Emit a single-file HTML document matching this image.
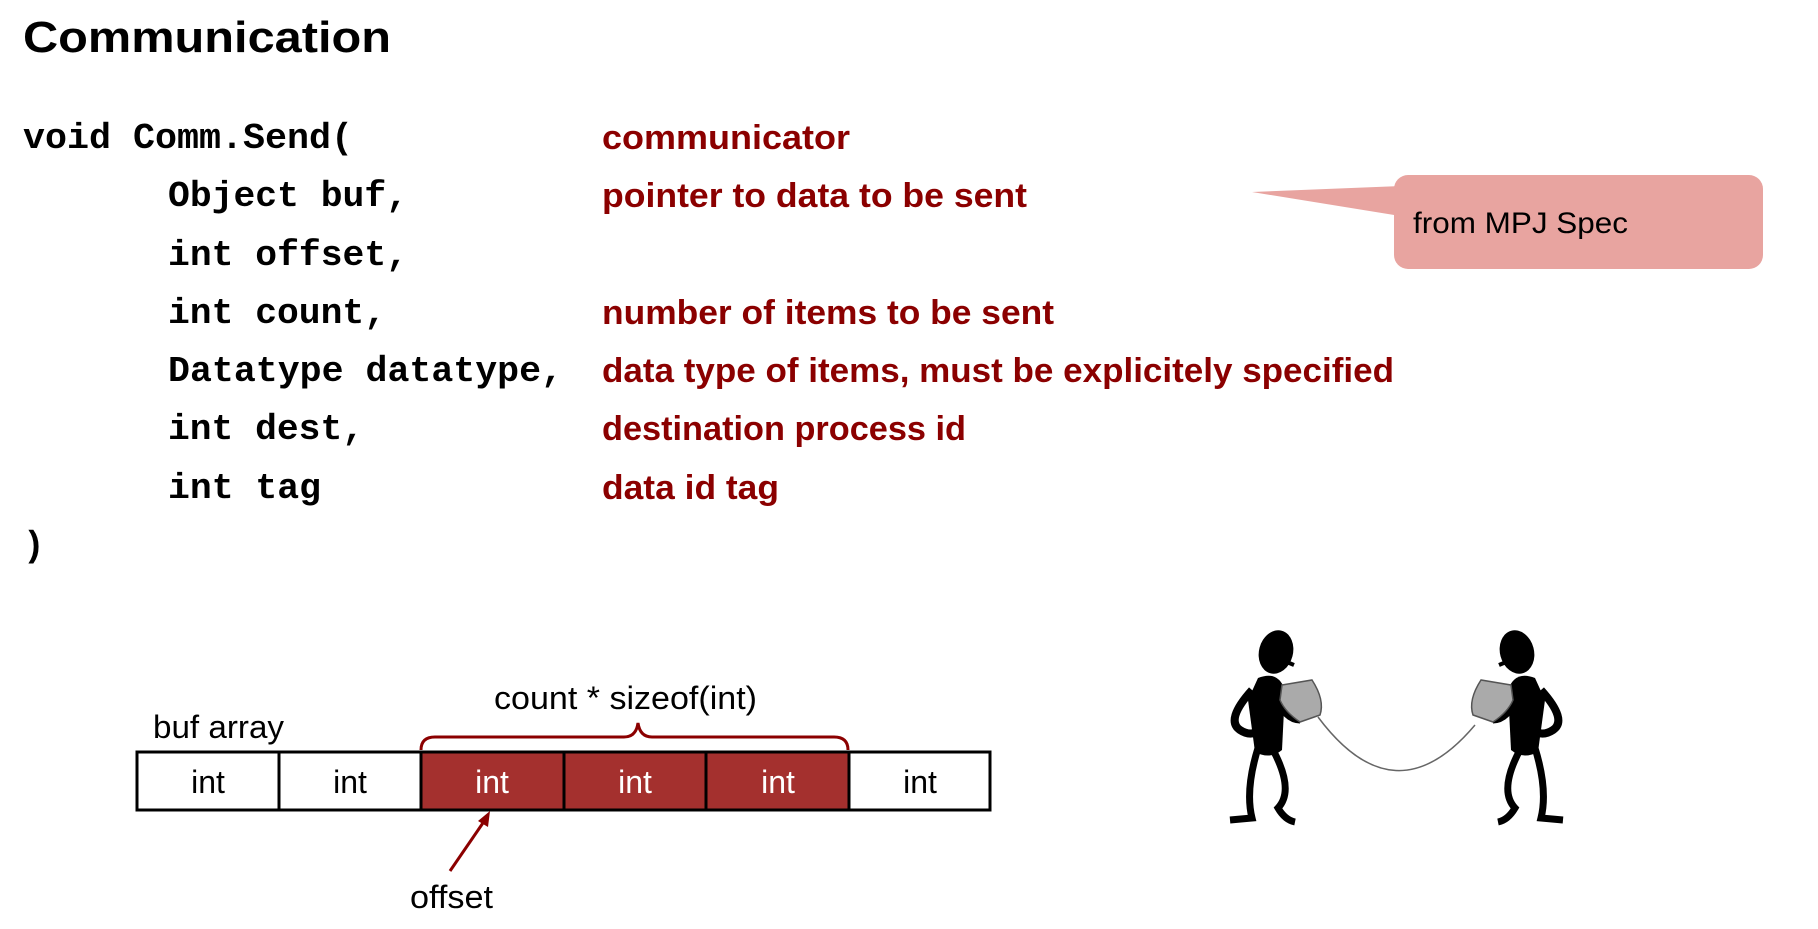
<!DOCTYPE html>
<html><head><meta charset="utf-8"><style>
html,body{margin:0;padding:0;background:#fff;}
svg{display:block;}
</style></head><body>
<svg width="1818" height="929" viewBox="0 0 1818 929" xmlns="http://www.w3.org/2000/svg">
<text x="23" y="52" font-family="Liberation Sans, sans-serif" font-weight="bold" font-size="44" textLength="368" lengthAdjust="spacingAndGlyphs">Communication</text>
<g font-family="Liberation Mono, monospace" font-weight="bold" font-size="36" fill="#000">
<text x="23" y="148" textLength="330" lengthAdjust="spacingAndGlyphs">void Comm.Send(</text>
<text x="168" y="206" textLength="240" lengthAdjust="spacingAndGlyphs">Object buf,</text>
<text x="168" y="265" textLength="240" lengthAdjust="spacingAndGlyphs">int offset,</text>
<text x="168" y="323" textLength="218" lengthAdjust="spacingAndGlyphs">int count,</text>
<text x="168" y="381" textLength="395" lengthAdjust="spacingAndGlyphs">Datatype datatype,</text>
<text x="168" y="439" textLength="196" lengthAdjust="spacingAndGlyphs">int dest,</text>
<text x="168" y="498" textLength="153" lengthAdjust="spacingAndGlyphs">int tag</text>
<text x="23" y="556">)</text>
</g>
<g font-family="Liberation Sans, sans-serif" font-weight="bold" font-size="34" fill="#8b0000">
<text x="602" y="149" textLength="248" lengthAdjust="spacingAndGlyphs">communicator</text>
<text x="602" y="207" textLength="425" lengthAdjust="spacingAndGlyphs">pointer to data to be sent</text>
<text x="602" y="324" textLength="452" lengthAdjust="spacingAndGlyphs">number of items to be sent</text>
<text x="602" y="382" textLength="792" lengthAdjust="spacingAndGlyphs">data type of items, must be explicitely specified</text>
<text x="602" y="440" textLength="364" lengthAdjust="spacingAndGlyphs">destination process id</text>
<text x="602" y="499" textLength="177" lengthAdjust="spacingAndGlyphs">data id tag</text>
</g>
<!-- callout -->
<path d="M1252,192 L1400,186 L1400,216 Z" fill="#e8a4a0"/>
<rect x="1394" y="175" width="369" height="94" rx="14" fill="#e8a4a0"/>
<text x="1413" y="233" font-family="Liberation Sans, sans-serif" font-size="30" fill="#000" textLength="215" lengthAdjust="spacingAndGlyphs">from MPJ Spec</text>
<!-- array -->
<g font-family="Liberation Sans, sans-serif" font-size="32">
<text x="153" y="738" textLength="131" lengthAdjust="spacingAndGlyphs">buf array</text>
<text x="494" y="709" textLength="263" lengthAdjust="spacingAndGlyphs">count * sizeof(int)</text>
<text x="410" y="908" textLength="83" lengthAdjust="spacingAndGlyphs">offset</text>
</g>
<rect x="421" y="752" width="428" height="58" fill="#a4302e"/>
<rect x="137" y="752" width="853" height="58" fill="none" stroke="#000" stroke-width="3"/>
<g stroke="#000" stroke-width="3">
<line x1="279" y1="752" x2="279" y2="810"/><line x1="421" y1="752" x2="421" y2="810"/>
<line x1="564" y1="752" x2="564" y2="810"/><line x1="706" y1="752" x2="706" y2="810"/>
<line x1="849" y1="752" x2="849" y2="810"/>
</g>
<g font-family="Liberation Sans, sans-serif" font-size="32" text-anchor="middle">
<text x="208" y="793">int</text><text x="350" y="793">int</text>
<text x="492" y="793" fill="#fff">int</text><text x="635" y="793" fill="#fff">int</text><text x="778" y="793" fill="#fff">int</text>
<text x="920" y="793">int</text>
</g>
<path d="M421,750 Q421,737 435,737 L624,737 Q636,737 638,723 Q640,737 652,737 L834,737 Q848,737 848,750" fill="none" stroke="#8b0000" stroke-width="3"/>
<line x1="450" y1="871" x2="485" y2="820" stroke="#8b0000" stroke-width="3"/>
<path d="M490,811 L478,821 L488,827 Z" fill="#8b0000"/>
<!-- figures -->
<path d="M1318,717 Q1395,820 1475,725" fill="none" stroke="#666" stroke-width="1.5"/>
<g id="fig">
<ellipse cx="1276" cy="652" rx="17" ry="22" fill="#000" transform="rotate(15 1276 652)"/>
<path d="M1282,660 L1294,665" stroke="#000" stroke-width="4"/>
<path d="M1258,678 Q1278,670 1285,690 L1282,750 Q1270,760 1255,752 L1248,700 Z" fill="#000"/>
<path d="M1252,690 Q1225,720 1240,730 Q1255,740 1268,722" fill="none" stroke="#000" stroke-width="8"/>
<path d="M1275,695 Q1285,720 1300,720" fill="none" stroke="#000" stroke-width="7"/>
<path d="M1258,748 Q1245,790 1252,818 L1230,820" fill="none" stroke="#000" stroke-width="7"/>
<path d="M1272,748 Q1295,790 1278,808 Q1285,820 1295,822" fill="none" stroke="#000" stroke-width="7"/>
<path d="M1282,685 L1312,680 Q1325,700 1320,715 L1300,722 Q1285,712 1280,700 Z" fill="#aaa" stroke="#555" stroke-width="1.5"/>
</g>
<use href="#fig" transform="translate(2793,0) scale(-1,1)"/>
</svg>
</body></html>
